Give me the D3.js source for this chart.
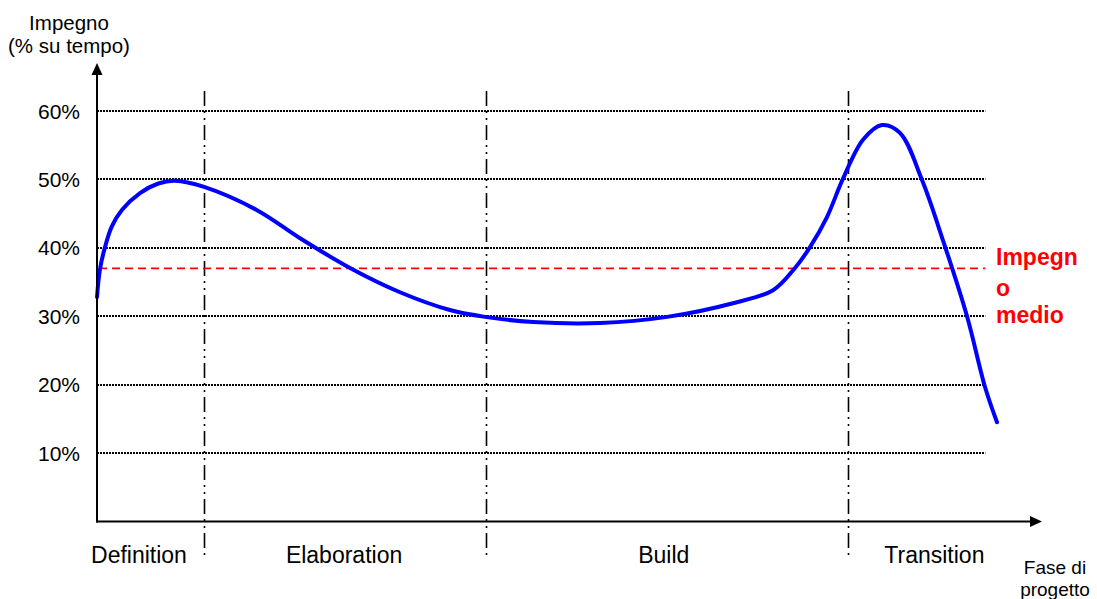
<!DOCTYPE html>
<html>
<head>
<meta charset="utf-8">
<script src="https://cdn.jsdelivr.net/npm/d3@7"></script>
<style>
  html, body { margin: 0; padding: 0; background: #fff; }
  svg { display: block; font-family: "Liberation Sans", Arial, sans-serif; }
</style>
</head>
<body>
<svg id="chart" width="1097" height="599"></svg>
<script>
// ---- data ----
const yTicks = [10, 20, 30, 40, 50, 60];
const yTickLabels = ["10%", "20%", "30%", "40%", "50%", "60%"];
const phases = ["Definition", "Elaboration", "Build", "Transition"];
const phaseCenters = [4.45, 26.2, 60.1, 88.8];      // project time (0-100)
const phaseBounds = [11.35, 41.25, 79.64];           // project time (0-100)
const avgEffort = 37;                                 // % "Impegno medio"
const time = [0, 0.32, 0.85, 1.56, 2.62, 4.56, 6.5, 8.27, 11.35, 16.97, 21.53, 26.83,
              32.13, 37.43, 41.15, 46.24, 53.34, 60.45, 67.44, 71.69, 74.02, 75.61,
              77.41, 79.11, 81.23, 83.24, 85.15, 87.49, 89.71, 92.26, 94.17, 95.44];
const effort = [32.8, 36.9, 40.1, 43.1, 45.5, 48.0, 49.4, 49.8, 48.9, 45.5, 41.4, 37.05,
                33.5, 30.9, 29.9, 29.15, 29.0, 29.9, 31.9, 33.8, 37.05, 40.1,
                44.5, 50.1, 55.8, 57.95, 56.8, 49.9, 41.1, 30.0, 19.65, 14.5];
const gridEnd = 94.2;

// ---- layout ----
const svg = d3.select("#chart");
const x = d3.scaleLinear().domain([0, 100]).range([97, 1040]);
const y = d3.scaleLinear().domain([0, 60]).range([521.4, 111]);
const x0 = x(0), yBase = y(0);

// gridlines (dotted)
svg.append("g").selectAll("line").data(yTicks).join("line")
  .attr("x1", x0).attr("x2", x(gridEnd))
  .attr("y1", d => Math.round(y(d))).attr("y2", d => Math.round(y(d)))
  .attr("stroke", "#000").attr("stroke-width", 2)
  .attr("stroke-dasharray", "2,1");

// tick labels
svg.append("g").selectAll("text").data(yTicks).join("text")
  .attr("x", 80).attr("y", d => y(d))
  .attr("dy", "0.36em")
  .attr("text-anchor", "end")
  .attr("font-size", 21)
  .attr("fill", "#000")
  .text((d, i) => yTickLabels[i]);

// phase dividers (dash-dot-dot)
svg.append("g").selectAll("line").data(phaseBounds).join("line")
  .attr("x1", d => Math.round(x(d)) + 0.5).attr("x2", d => Math.round(x(d)) + 0.5)
  .attr("y1", 91).attr("y2", 557)
  .attr("stroke", "#000").attr("stroke-width", 1.6)
  .attr("stroke-dasharray", "15,5,2,5,2,5");

// average effort line (red dashed)
svg.append("line")
  .attr("x1", x0 + 2).attr("x2", x(gridEnd))
  .attr("y1", y(avgEffort)).attr("y2", y(avgEffort))
  .attr("stroke", "#ff0000").attr("stroke-width", 1.8)
  .attr("stroke-dasharray", "8,5");

// curve
const pts = time.map((t, i) => [t, effort[i]]);
svg.append("path")
  .datum(pts)
  .attr("fill", "none")
  .attr("stroke", "#0000ff")
  .attr("stroke-width", 4)
  .attr("stroke-linecap", "round")
  .attr("d", d3.line().x(d => x(d[0])).y(d => y(d[1])).curve(d3.curveCatmullRom.alpha(0.5)));

// axes with arrows
svg.append("line").attr("x1", x0).attr("x2", x0).attr("y1", yBase + 1).attr("y2", 72)
  .attr("stroke", "#000").attr("stroke-width", 2);
svg.append("path").attr("d", `M${x0},63 L${x0 - 5.5},75 L${x0 + 5.5},75 Z`).attr("fill", "#000");
svg.append("line").attr("x1", x0 - 1).attr("x2", 1032).attr("y1", yBase).attr("y2", yBase)
  .attr("stroke", "#000").attr("stroke-width", 2);
svg.append("path").attr("d", `M1042,${yBase} L1030,${yBase - 5.5} L1030,${yBase + 5.5} Z`).attr("fill", "#000");

// axis titles
const yt = svg.append("text").attr("text-anchor", "middle").attr("font-size", 20.5).attr("fill", "#000");
yt.append("tspan").attr("x", 69).attr("y", 30).text("Impegno");
yt.append("tspan").attr("x", 69).attr("y", 53).text("(% su tempo)");

const xt = svg.append("text").attr("text-anchor", "middle").attr("font-size", 19).attr("fill", "#000");
xt.append("tspan").attr("x", 1055).attr("y", 574).text("Fase di");
xt.append("tspan").attr("x", 1055).attr("y", 596).text("progetto");

// phase labels
svg.append("g").selectAll("text").data(phases).join("text")
  .attr("x", (d, i) => x(phaseCenters[i])).attr("y", 563)
  .attr("text-anchor", "middle")
  .attr("font-size", 23)
  .attr("fill", "#000")
  .text(d => d);

// average label
const al = svg.append("text").attr("font-size", 23).attr("font-weight", "bold").attr("fill", "#ff0000");
al.append("tspan").attr("x", 996).attr("y", 265).text("Impegn");
al.append("tspan").attr("x", 996).attr("y", 296).text("o");
al.append("tspan").attr("x", 996).attr("y", 323).text("medio");
</script>
</body>
</html>
